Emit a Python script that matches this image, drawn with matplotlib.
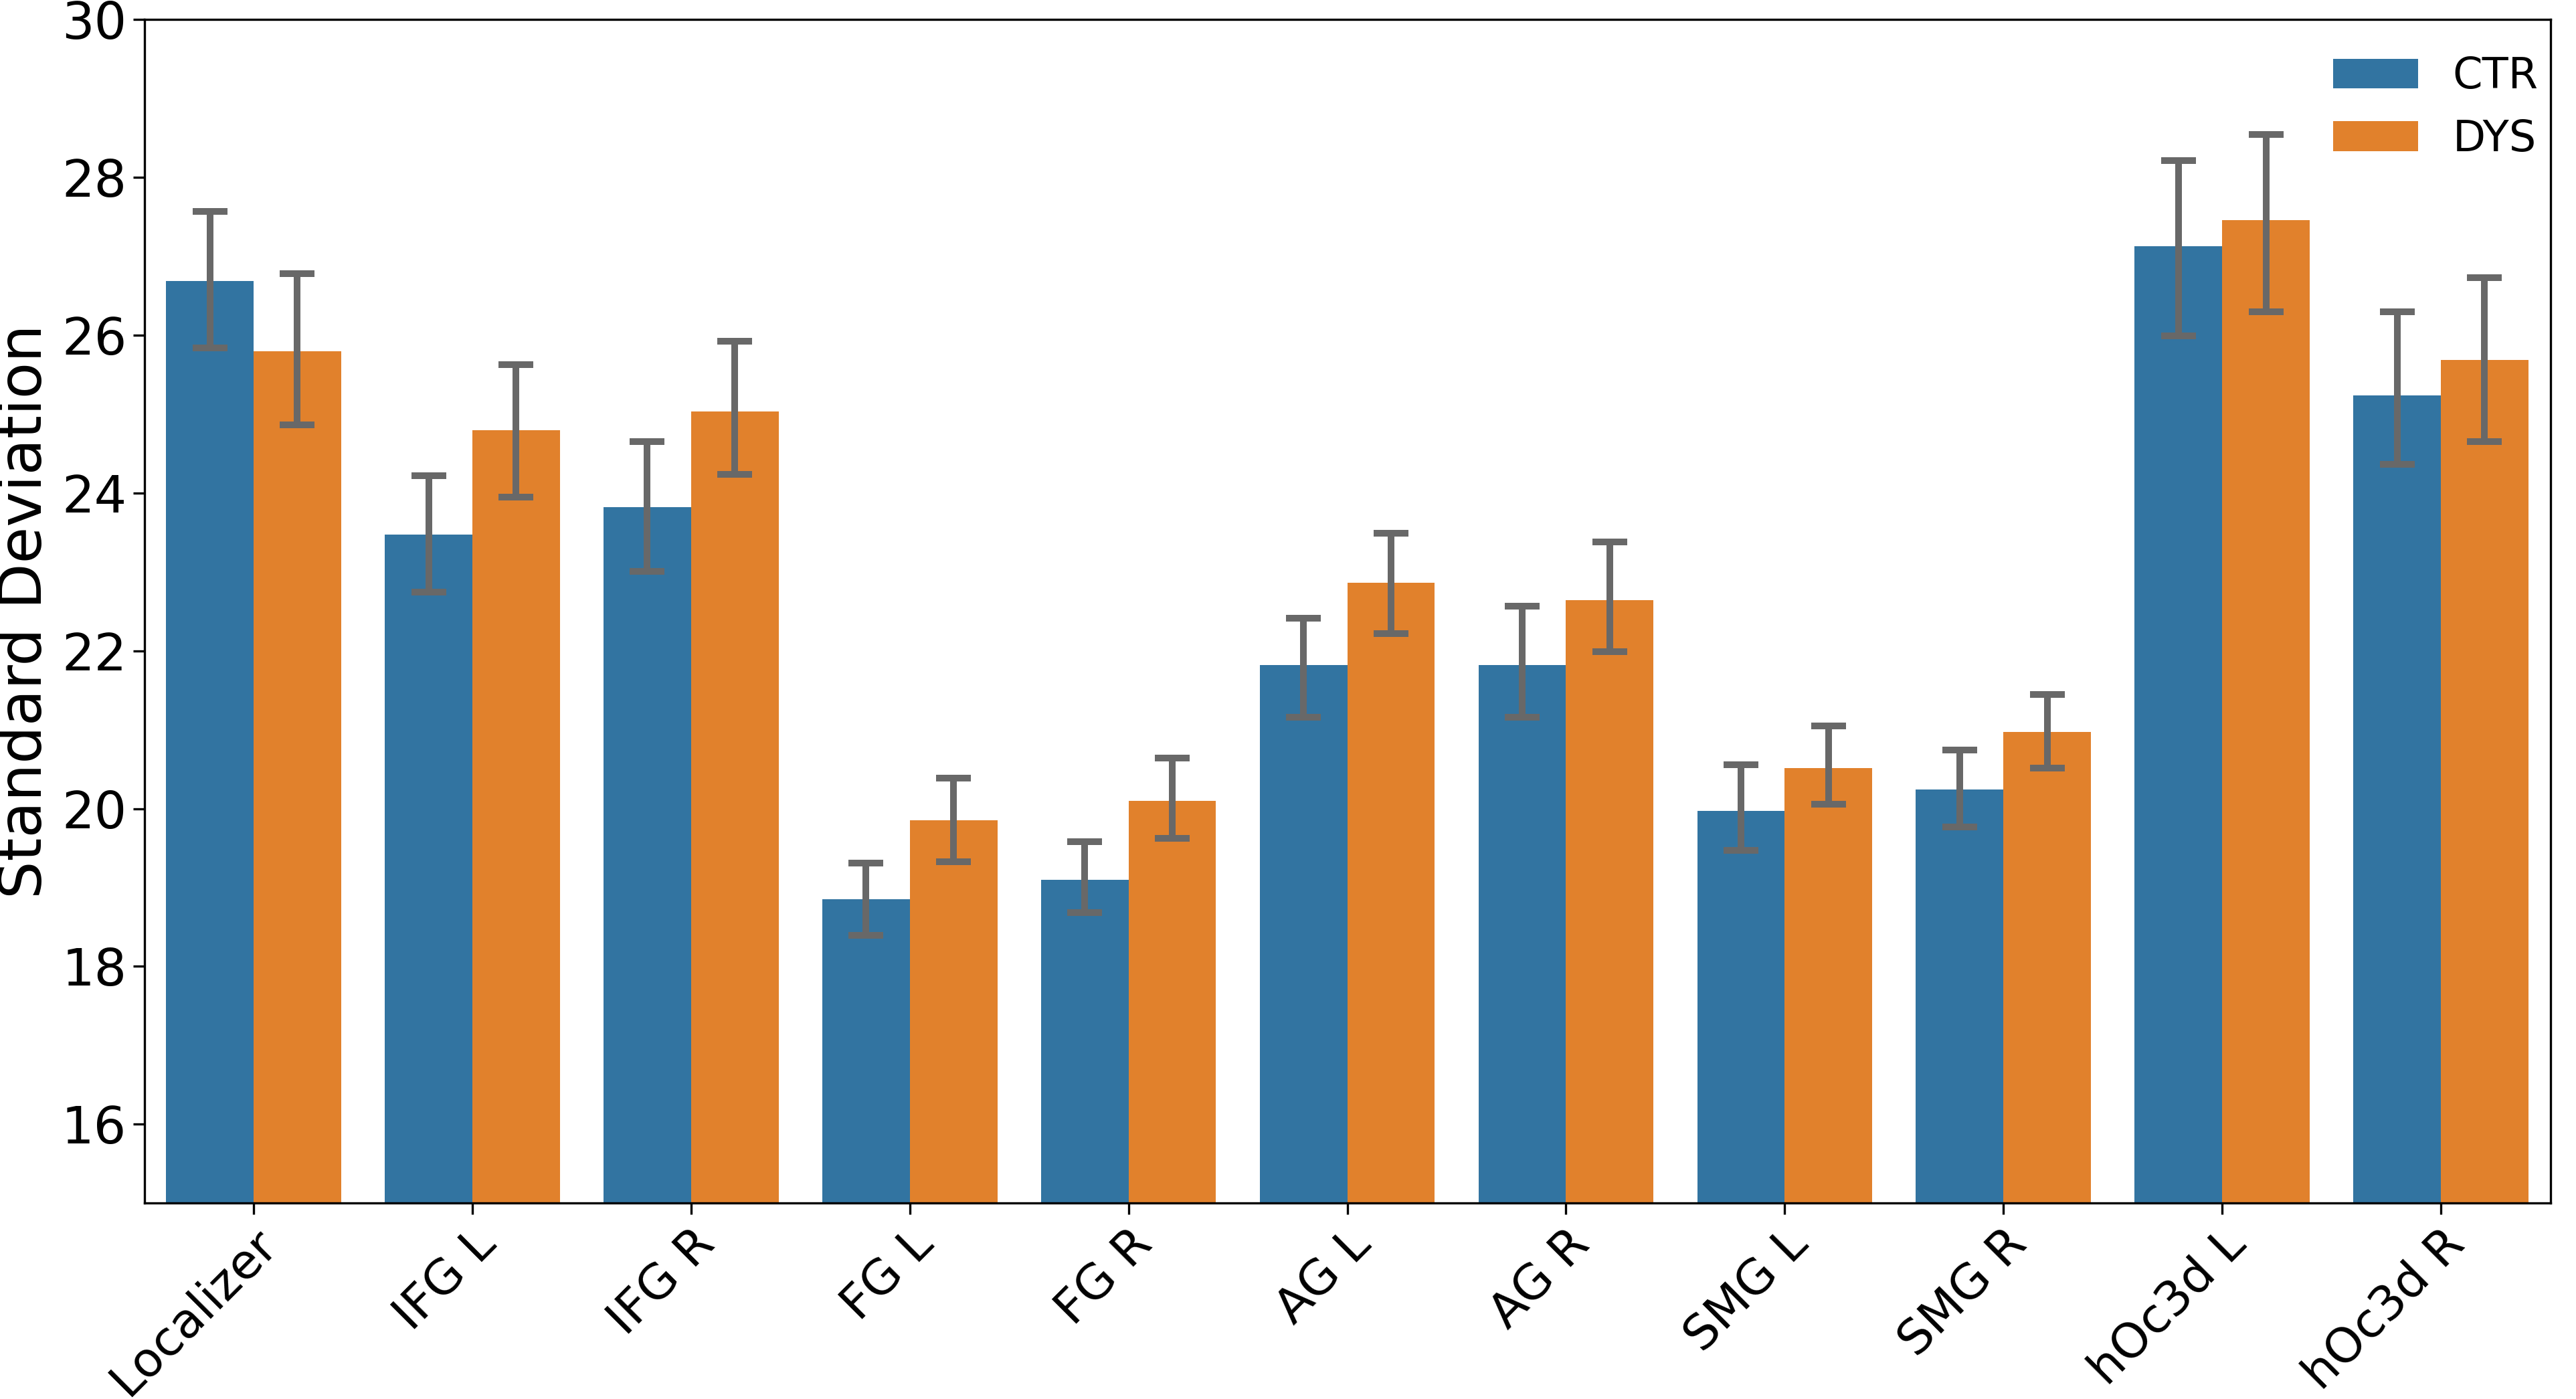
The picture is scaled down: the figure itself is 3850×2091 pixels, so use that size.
import numpy as np
import matplotlib.pyplot as plt

regions = ["Localizer", "IFG L", "IFG R", "FG L", "FG R", "AG L", "AG R",
           "SMG L", "SMG R", "hOc3d L", "hOc3d R"]

# mean standard deviation per group, with lower / upper CI ends
ctr_mean = [26.69, 23.47, 23.82, 18.85, 19.10, 21.82, 21.82, 19.97, 20.24, 27.13, 25.24]
ctr_low = [25.84, 22.74, 23.01, 18.39, 18.68, 21.16, 21.16, 19.47, 19.77, 25.99, 24.36]
ctr_high = [27.57, 24.22, 24.65, 19.31, 19.58, 22.41, 22.57, 20.56, 20.74, 28.21, 26.30]

dys_mean = [25.80, 24.80, 25.03, 19.85, 20.10, 22.86, 22.64, 20.51, 20.97, 27.46, 25.69]
dys_low = [24.86, 23.95, 24.24, 19.33, 19.62, 22.22, 21.99, 20.06, 20.51, 26.30, 24.65]
dys_high = [26.78, 25.63, 25.92, 20.39, 20.64, 23.49, 23.38, 21.05, 21.45, 28.54, 26.73]

x = np.arange(len(regions))
w = 0.4

fig = plt.figure(figsize=(19.25, 10.455), dpi=200)
ax = fig.add_axes([0.056, 0.140, 0.934, 0.846])

groups = [("CTR", ctr_mean, ctr_low, ctr_high, "#3274a1", -w / 2),
          ("DYS", dys_mean, dys_low, dys_high, "#e1812c", w / 2)]

for name, mean, low, high, col, off in groups:
    mean = np.array(mean)
    yerr = [mean - np.array(low), np.array(high) - mean]
    ax.bar(x + off, mean, width=w, color=col, label=name)
    ax.errorbar(x + off, mean, yerr=yerr, fmt="none", ecolor="#686868",
                elinewidth=3.6, capsize=9.5, capthick=3.6)

ax.set_xlim(-0.5, len(regions) - 0.5)
ax.set_ylim(15, 30)
ax.set_yticks([16, 18, 20, 22, 24, 26, 28, 30])
ax.set_xticks(x)
ax.set_xticklabels(regions, rotation=45, ha="right", rotation_mode="anchor")
ax.tick_params(axis="y", labelsize=27.5, width=1.2, length=6)
ax.tick_params(axis="x", labelsize=26, width=1.2, length=6)
ax.set_ylabel("Standard Deviation", fontsize=32)

for s in ax.spines.values():
    s.set_linewidth(1.2)

ax.legend(loc="upper right", bbox_to_anchor=(1.011, 1.002), fontsize=23, frameon=False)

fig.savefig("out.png", dpi=200)
